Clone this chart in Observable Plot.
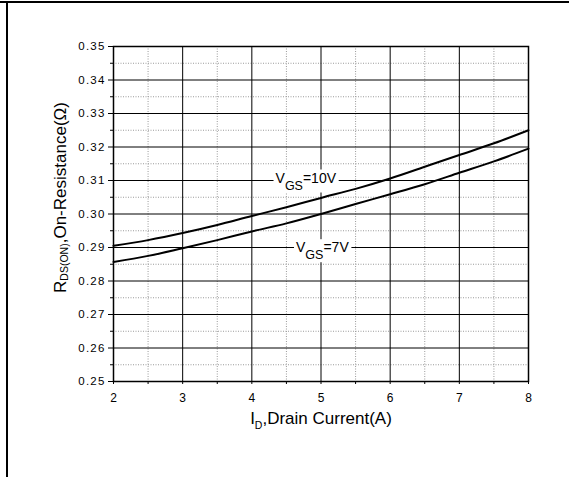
<!DOCTYPE html>
<html><head><meta charset="utf-8">
<script src="https://cdn.jsdelivr.net/npm/d3@7"></script>
<script src="https://cdn.jsdelivr.net/npm/@observablehq/plot@0.6"></script>
<style>
body{margin:0;background:#fff;}
#chart{width:569px;height:477px;}
</style></head><body><div id="chart"></div>
<script>
// Drain current I_D (A)
const current = [2, 2.5, 3, 3.5, 4, 4.5, 5, 5.5, 6, 6.5, 7, 7.5, 8];
// R_DS(ON) (ohm) for VGS = 10 V
const rdsVgs10 = [0.2905, 0.2922, 0.2943, 0.2967, 0.2994, 0.3020, 0.3048, 0.3075, 0.3106, 0.3141, 0.3176, 0.3211, 0.3250];
// R_DS(ON) (ohm) for VGS = 7 V
const rdsVgs7 = [0.2857, 0.2875, 0.2898, 0.2922, 0.2948, 0.2972, 0.3000, 0.3030, 0.3059, 0.3089, 0.3123, 0.3157, 0.3195];

const xTicks = [2, 3, 4, 5, 6, 7, 8];
const xMinor = [2.5, 3.5, 4.5, 5.5, 6.5, 7.5];
const yTicks = [0.25, 0.26, 0.27, 0.28, 0.29, 0.30, 0.31, 0.32, 0.33, 0.34, 0.35];
const yMinor = [0.255, 0.265, 0.275, 0.285, 0.295, 0.305, 0.315, 0.325, 0.335, 0.345];

const seriesNames = ["VGS=10V", "VGS=7V"];
const labelText = ["V|GS|=10V", "V|GS|=7V"];
const labelX = [4.78, 5.02];
const labelY = [0.31, 0.29];

const rows = current.flatMap((x, i) => [
  {x, r: rdsVgs10[i], s: seriesNames[0]},
  {x, r: rdsVgs7[i], s: seriesNames[1]}
]);

const font = "'Liberation Sans', Arial, Helvetica, sans-serif";

const chart = Plot.plot({
  width: 569, height: 477,
  marginLeft: 113, marginRight: 41, marginTop: 46, marginBottom: 96,
  style: {fontFamily: font, background: "white", color: "black"},
  x: {domain: [2, 8]},
  y: {domain: [0.25, 0.35]},
  marks: [
    Plot.ruleX(xMinor, {stroke: "#9a9a9a", strokeDasharray: "1,1.5"}),
    Plot.ruleY(yMinor, {stroke: "#9a9a9a", strokeDasharray: "1,1.5"}),
    Plot.ruleX(xTicks, {stroke: "black"}),
    Plot.ruleY(yTicks, {stroke: "black"}),
    Plot.text([0], {x: () => labelX[0], y: () => labelY[0], text: () => labelText[0],
      fontSize: 14, textAnchor: "middle", lineAnchor: "bottom", dy: 2, fill: "black"}),
    Plot.text([1], {x: () => labelX[1], y: () => labelY[1], text: () => labelText[1],
      fontSize: 14, textAnchor: "middle", lineAnchor: "bottom", dy: 4.7, fill: "black"}),
    Plot.line(rows, {x: "x", y: "r", z: "s", stroke: "black", strokeWidth: 2, curve: "monotone-x"}),
    Plot.frame({stroke: "black", strokeWidth: 1.5}),
    Plot.axisX(xTicks, {tickSize: 3, tickPadding: 9, fontSize: 12, label: null, tickFormat: d => String(d)}),
    Plot.axisX(xMinor, {tickSize: 3, label: null, tickFormat: () => ""}),
    Plot.axisY(yTicks, {tickSize: 5, tickPadding: 3, fontSize: 11.5, label: null, tickFormat: d3.format(".2f")}),
    Plot.axisY(yMinor, {tickSize: 3, label: null, tickFormat: () => ""}),
    Plot.text(["R|DS(ON)|,On-Resistance(Ω)"], {frameAnchor: "left", rotate: -90, dx: -48, dy: -16.5,
      textAnchor: "middle", lineAnchor: "bottom", fontSize: 17, fill: "black"}),
    Plot.text(["I|D|,Drain Current(A)"], {frameAnchor: "bottom", dy: 42,
      textAnchor: "middle", lineAnchor: "bottom", fontSize: 17, fill: "black"})
  ]
});

document.getElementById("chart").appendChild(chart);

// Build subscripts
const subSpec = {
  "V|GS|=10V": {big: 14, small: 12.5, shift: 7, bg: true},
  "V|GS|=7V": {big: 14, small: 12.5, shift: 7, bg: true},
  "R|DS(ON)|,On-Resistance(Ω)": {big: 17, small: 10.5, shift: 2, bg: false},
  "I|D|,Drain Current(A)": {big: 17, small: 10.5, shift: 5, bg: false}
};
d3.select(chart).selectAll("text").each(function() {
  const t = this.textContent;
  const spec = subSpec[t];
  if (!spec) return;
  const [a, b, c] = t.split("|");
  const sel = d3.select(this);
  sel.text(null);
  sel.append("tspan").attr("font-size", spec.big).text(a);
  sel.append("tspan").attr("font-size", spec.small).attr("dy", spec.shift).text(b);
  sel.append("tspan").attr("font-size", spec.big).attr("dy", -spec.shift).text(c);
  if (spec.bg) {
    const bb = this.getBBox();
    d3.select(this.parentNode).insert("rect", () => this)
      .attr("x", bb.x - 2).attr("y", bb.y).attr("width", bb.width + 4).attr("height", bb.height)
      .attr("transform", this.getAttribute("transform"))
      .attr("fill", "white");
  }
});
// wider letter spacing of the y tick labels, as in the reference
d3.select(chart).selectAll("g[aria-label='y-axis tick label'] text").style("letter-spacing", "1.2px");

// Page border lines (decoration)
const svg = d3.select(chart);
svg.append("line").attr("x1", 0).attr("x2", 569).attr("y1", 2).attr("y2", 2)
  .attr("stroke", "black").attr("stroke-width", 2);
svg.append("line").attr("x1", 7).attr("x2", 7).attr("y1", 1).attr("y2", 477)
  .attr("stroke", "black").attr("stroke-width", 2);
</script>
</body></html>
